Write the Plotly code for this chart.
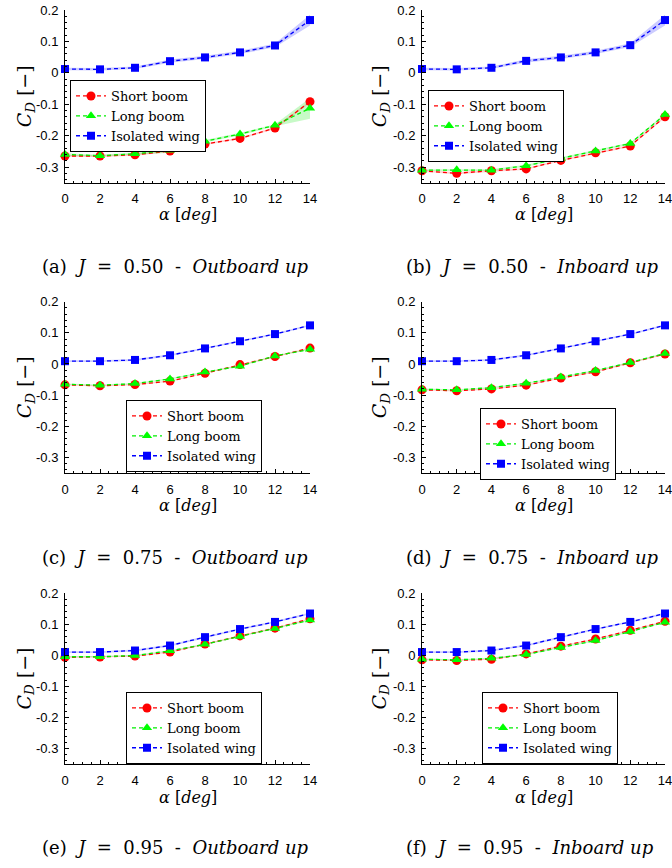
import plotly.graph_objects as go

alpha = [0, 2, 4, 6, 8, 10, 12, 14]
x_ticks = [0, 2, 4, 6, 8, 10, 12, 14]
y_ticks = [-0.3, -0.2, -0.1, 0, 0.1, 0.2]
y_tick_labels = ["-0.3", "-0.2", "-0.1", "0", "0.1", "0.2"]
series_names = ["Short boom", "Long boom", "Isolated wing"]

# (a) J=0.50 Outboard up
a_short = [-0.265, -0.265, -0.261, -0.249, -0.227, -0.209, -0.176, -0.092]
a_long = [-0.260, -0.264, -0.258, -0.247, -0.218, -0.195, -0.167, -0.113]
a_iso = [0.012, 0.011, 0.016, 0.037, 0.049, 0.065, 0.087, 0.168]
a_short_err = [0.003, 0.003, 0.003, 0.003, 0.003, 0.003, 0.003, 0.004]
a_long_err = [0.004, 0.003, 0.004, 0.008, 0.004, 0.004, 0.003, 0.033]
a_iso_err = [0.004, 0.004, 0.004, 0.005, 0.005, 0.005, 0.006, 0.017]

# (b) J=0.50 Inboard up
b_short = [-0.312, -0.320, -0.312, -0.306, -0.279, -0.255, -0.233, -0.140]
b_long = [-0.310, -0.309, -0.310, -0.296, -0.272, -0.249, -0.225, -0.133]
b_iso = [0.012, 0.011, 0.016, 0.038, 0.049, 0.065, 0.088, 0.168]
b_short_err = [0.003, 0.003, 0.003, 0.003, 0.003, 0.003, 0.003, 0.003]
b_long_err = [0.003, 0.003, 0.003, 0.003, 0.003, 0.003, 0.003, 0.003]
b_iso_err = [0.004, 0.004, 0.004, 0.005, 0.005, 0.005, 0.006, 0.017]

# (c) J=0.75 Outboard up
c_short = [-0.067, -0.070, -0.066, -0.055, -0.030, -0.002, 0.024, 0.051]
c_long = [-0.065, -0.068, -0.063, -0.048, -0.026, -0.007, 0.026, 0.047]
c_iso = [0.009, 0.009, 0.013, 0.028, 0.050, 0.073, 0.096, 0.124]
c_short_err = [0.002] * 8
c_long_err = [0.002] * 8
c_iso_err = [0.003] * 8

# (d) J=0.75 Inboard up
d_short = [-0.083, -0.086, -0.080, -0.068, -0.045, -0.025, 0.004, 0.032]
d_long = [-0.081, -0.083, -0.076, -0.062, -0.042, -0.021, 0.005, 0.034]
d_iso = [0.009, 0.009, 0.013, 0.028, 0.050, 0.073, 0.096, 0.124]
d_short_err = [0.002] * 8
d_long_err = [0.002] * 8
d_iso_err = [0.003] * 8

# (e) J=0.95 Outboard up
e_short = [-0.007, -0.006, -0.003, 0.010, 0.036, 0.062, 0.087, 0.117]
e_long = [-0.005, -0.005, -0.001, 0.014, 0.035, 0.060, 0.086, 0.113]
e_iso = [0.010, 0.010, 0.015, 0.031, 0.058, 0.084, 0.107, 0.134]
e_short_err = [0.002] * 8
e_long_err = [0.002] * 8
e_iso_err = [0.003] * 8

# (f) J=0.95 Inboard up
f_short = [-0.015, -0.017, -0.013, 0.004, 0.029, 0.052, 0.080, 0.109]
f_long = [-0.013, -0.015, -0.010, 0.002, 0.025, 0.047, 0.076, 0.106]
f_iso = [0.010, 0.010, 0.015, 0.031, 0.058, 0.084, 0.107, 0.134]
f_short_err = [0.002] * 8
f_long_err = [0.002] * 8
f_iso_err = [0.003] * 8

captions = [
    "(a)&nbsp;&nbsp;<i>J</i>&nbsp;&nbsp;=&nbsp;&nbsp;0.50&nbsp;&nbsp;-&nbsp;&nbsp;<i>Outboard up</i>",
    "(b)&nbsp;&nbsp;<i>J</i>&nbsp;&nbsp;=&nbsp;&nbsp;0.50&nbsp;&nbsp;-&nbsp;&nbsp;<i>Inboard up</i>",
    "(c)&nbsp;&nbsp;<i>J</i>&nbsp;&nbsp;=&nbsp;&nbsp;0.75&nbsp;&nbsp;-&nbsp;&nbsp;<i>Outboard up</i>",
    "(d)&nbsp;&nbsp;<i>J</i>&nbsp;&nbsp;=&nbsp;&nbsp;0.75&nbsp;&nbsp;-&nbsp;&nbsp;<i>Inboard up</i>",
    "(e)&nbsp;&nbsp;<i>J</i>&nbsp;&nbsp;=&nbsp;&nbsp;0.95&nbsp;&nbsp;-&nbsp;&nbsp;<i>Outboard up</i>",
    "(f)&nbsp;&nbsp;<i>J</i>&nbsp;&nbsp;=&nbsp;&nbsp;0.95&nbsp;&nbsp;-&nbsp;&nbsp;<i>Inboard up</i>",
]

panels = [
    (a_short, a_long, a_iso, a_short_err, a_long_err, a_iso_err),
    (b_short, b_long, b_iso, b_short_err, b_long_err, b_iso_err),
    (c_short, c_long, c_iso, c_short_err, c_long_err, c_iso_err),
    (d_short, d_long, d_iso, d_short_err, d_long_err, d_iso_err),
    (e_short, e_long, e_iso, e_short_err, e_long_err, e_iso_err),
    (f_short, f_long, f_iso, f_short_err, f_long_err, f_iso_err),
]

W, H = 672, 868
# pixel geometry of each axes box: (left, right, top, bottom)
col_x = [(65, 310), (422, 665)]
row_y = [(10, 182.7), (301.7, 473), (593, 764)]
legend_pos = [(70, 80), (428, 90), (126, 400), (480, 408), (126, 692), (482, 692)]
caption_x = [175, 532, 175, 532, 175, 530]
caption_y = [267, 557, 847]
xtitle_y = [214, 505, 797]
ytitle_x = [25, 380]

line_colors = ["#ff0000", "#00ee00", "#0000ff"]
band_colors = ["rgba(255,0,0,0.18)", "rgba(0,230,0,0.22)", "rgba(0,0,255,0.20)"]
symbols = ["circle", "triangle-up", "square"]
marker_colors = ["#ff0000", "#00ff00", "#0000ff"]

fig = go.Figure()
annotations = []
layout = {}

for i, p in enumerate(panels):
    r, c = divmod(i, 2)
    n = i + 1
    xa = "x" if n == 1 else f"x{n}"
    ya = "y" if n == 1 else f"y{n}"
    leg = "legend" if n == 1 else f"legend{n}"
    vals = p[:3]
    errs = p[3:]
    for k in range(3):
        up = [v + e for v, e in zip(vals[k], errs[k])]
        lo = [v - e for v, e in zip(vals[k], errs[k])]
        fig.add_trace(go.Scatter(
            x=alpha + alpha[::-1], y=up + lo[::-1], fill="toself",
            fillcolor=band_colors[k], line=dict(width=0), mode="lines",
            hoverinfo="skip", showlegend=False, xaxis=xa, yaxis=ya))
    for k in range(3):
        fig.add_trace(go.Scatter(
            x=alpha, y=vals[k], name=series_names[k], mode="lines+markers",
            line=dict(color=line_colors[k], width=1.3, dash="4px,3px"),
            marker=dict(symbol=symbols[k], size=9 if k < 2 else 8,
                        color=marker_colors[k], line=dict(width=0)),
            xaxis=xa, yaxis=ya, legend=leg, cliponaxis=False))
    x0, x1 = col_x[c]
    t, b = row_y[r]
    axis_common = dict(
        showline=True, linecolor="black", linewidth=1, mirror=False,
        ticks="inside", ticklen=4, tickcolor="black", tickwidth=1,
        showgrid=False, zeroline=False, automargin=False,
        ticklabeloverflow="allow",
        tickfont=dict(family="Liberation Sans, Arial", size=13, color="black"),
    )
    layout["xaxis" if n == 1 else f"xaxis{n}"] = dict(
        axis_common, domain=[x0 / W, x1 / W], anchor=ya, range=[0, 14],
        tickvals=x_ticks, ticktext=[str(v) for v in x_ticks],
        minor=dict(ticks="inside", ticklen=2, dtick=0.5, tickcolor="black"),
        ticklabelstandoff=4)
    layout["yaxis" if n == 1 else f"yaxis{n}"] = dict(
        axis_common, domain=[1 - b / H, 1 - t / H], anchor=xa, range=[-0.35, 0.2],
        tickvals=y_ticks, ticktext=y_tick_labels,
        minor=dict(ticks="inside", ticklen=2, dtick=0.02, tick0=0, tickcolor="black"),
        ticklabelstandoff=3)
    lx, ly = legend_pos[i]
    layout[leg] = dict(
        x=lx / W, y=1 - ly / H, xanchor="left", yanchor="top",
        xref="paper", yref="paper",
        bgcolor="white", bordercolor="black", borderwidth=1,
        font=dict(family="DejaVu Serif", size=13, color="black"),
        tracegroupgap=0, itemwidth=30)
    annotations.append(dict(
        text=captions[i], x=caption_x[i] / W, y=1 - caption_y[r] / H,
        xref="paper", yref="paper", showarrow=False, xanchor="center", yanchor="middle",
        font=dict(family="DejaVu Serif", size=18, color="black")))
    annotations.append(dict(
        text="<i>α</i> [<i>deg</i>]", x=(x0 + x1) / 2 / W, y=1 - xtitle_y[r] / H,
        xref="paper", yref="paper", showarrow=False, xanchor="center", yanchor="middle",
        font=dict(family="DejaVu Serif", size=16, color="black")))
    annotations.append(dict(
        text="<i>C</i><sub><i>D</i></sub> [−]", x=ytitle_x[c] / W, y=1 - (t + b) / 2 / H,
        xref="paper", yref="paper", showarrow=False, xanchor="center", yanchor="middle",
        textangle=-90,
        font=dict(family="DejaVu Serif", size=19, color="black")))

fig.update_layout(
    width=W, height=H, margin=dict(l=0, r=0, t=0, b=0, autoexpand=False),
    paper_bgcolor="white", plot_bgcolor="white",
    annotations=annotations, **layout)

fig.write_html("out.html", config={"displayModeBar": False},
               post_script="document.body.style.margin='0';")
